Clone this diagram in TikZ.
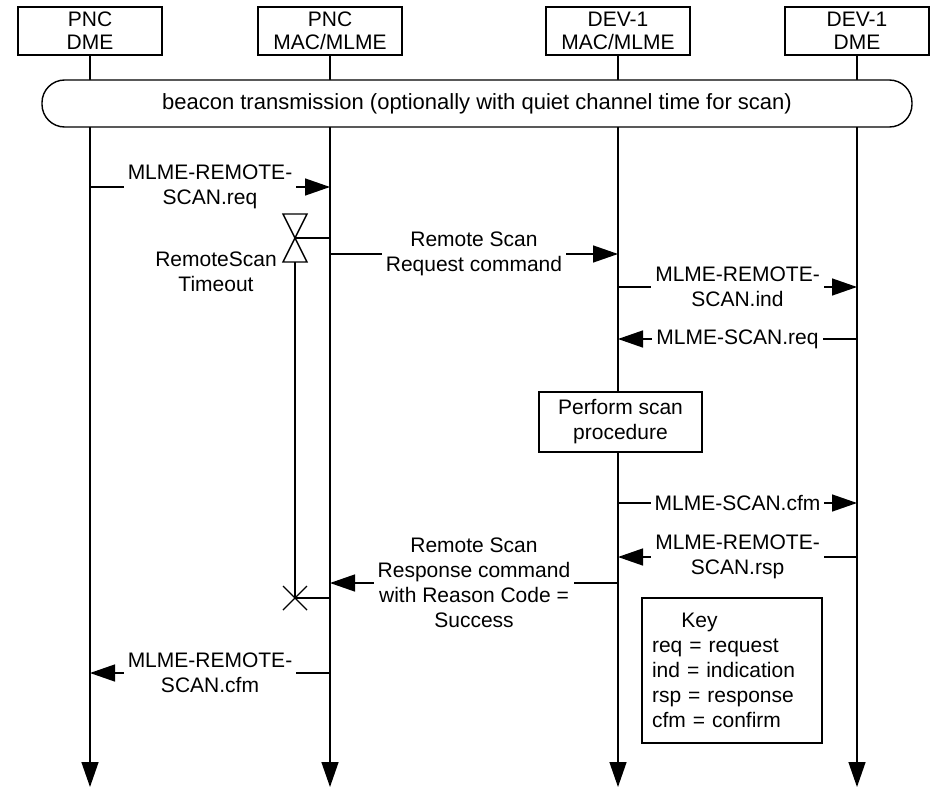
\documentclass[tikz,border=0pt]{standalone}
\usepackage{fontspec}
\setmainfont{Liberation Sans}
\usepackage{tikz}
\usetikzlibrary{arrows.meta, positioning}

\begin{document}
\begin{tikzpicture}[
  x=0.75pt, y=-0.75pt,
  font=\fontsize{15.75}{18.75}\selectfont,
  line width=1.05pt,
  hdr/.style={draw,fill=white,minimum width=108pt,minimum height=36pt,
              align=center,inner sep=1pt,font=\fontsize{15.75}{17.25}\selectfont},
  beacon/.style={draw,fill=white,rounded corners=17pt,minimum width=652.5pt,
                 minimum height=35.25pt,font=\fontsize{16.5}{18.75}\selectfont},
  proc/.style={draw,fill=white,minimum width=122pt,minimum height=45pt,align=center},
  keybox/.style={draw,fill=white,minimum width=135pt,minimum height=108.75pt,
                 text width=120pt,inner sep=7.5pt,align=left},
  tip/.tip={Triangle[length=18.75pt,width=12.75pt]},
  life/.style={-tip},
  msg/.style={-tip},
  lbl/.style={fill=white,align=center,inner sep=3pt}
]
\useasboundingbox (0,0) rectangle (935,788);

% Entities
\node[hdr] (pdme) at (90,31)  {PNC\\DME};
\node[hdr] (pmac) at (330,31) {PNC\\MAC/MLME};
\node[hdr] (dmac) at (618,31) {DEV-1\\MAC/MLME};
\node[hdr] (ddme) at (857,31) {DEV-1\\DME};

% Lifelines
\foreach \n in {pdme,pmac,dmac,ddme} {
  \draw[life] (\n.south) -- (\n.south |- 0,787);
}

% Beacon
\node[beacon] (bcn) at (477,103.5)
  {beacon transmission (optionally with quiet channel time for scan)};

% Messages
\draw[msg] (pdme |- 0,187) -- (pmac |- 0,187)
  node[lbl,midway] {MLME-REMOTE-\\SCAN.req};
\draw[msg] (pmac |- 0,254) -- (dmac |- 0,254)
  node[lbl,midway] {Remote Scan\\Request command};
\draw[msg] (dmac |- 0,287) -- (ddme |- 0,287)
  node[lbl,midway] {MLME-REMOTE-\\SCAN.ind};
\draw[msg] (ddme |- 0,339) -- (dmac |- 0,339)
  node[lbl,midway] {MLME-SCAN.req};

\node[proc] (scan) at (620.5,422) {Perform scan\\procedure};

\draw[msg] (dmac |- 0,503) -- (ddme |- 0,503)
  node[lbl,midway] {MLME-SCAN.cfm};
\draw[msg] (ddme |- 0,557) -- (dmac |- 0,557)
  node[lbl,midway] {MLME-REMOTE-\\SCAN.rsp};
\draw[msg] (dmac |- 0,583) -- (pmac |- 0,583)
  node[lbl,midway] {Remote Scan\\Response command\\with Reason Code =\\Success};
\draw[msg] (pmac |- 0,673) -- (pdme |- 0,673)
  node[lbl,midway] {MLME-REMOTE-\\SCAN.cfm};

% Timer
\coordinate (tstart) at (295,238);
\coordinate (tend) at (295,598);
\draw (tstart) -- (pmac |- tstart);
\draw (tstart) -- ++(-12,-24) -- ++(24,0) -- cycle;
\draw (tstart) -- ++(-12,24) -- ++(24,0) -- cycle;
\draw (295,262) -- (tend);
\draw (tend) +(-12,-12) -- +(12,12) +(-12,12) -- +(12,-12);
\draw (tend) -- (pmac |- tend);
\node[align=center] (tlbl) at (216,272) {RemoteScan\\Timeout};

% Key
\node[keybox] (key) at (732,670.5)
  {\hspace*{22pt}Key\\req = request\\ind = indication\\rsp = response\\cfm = confirm};

\end{tikzpicture}
\end{document}
